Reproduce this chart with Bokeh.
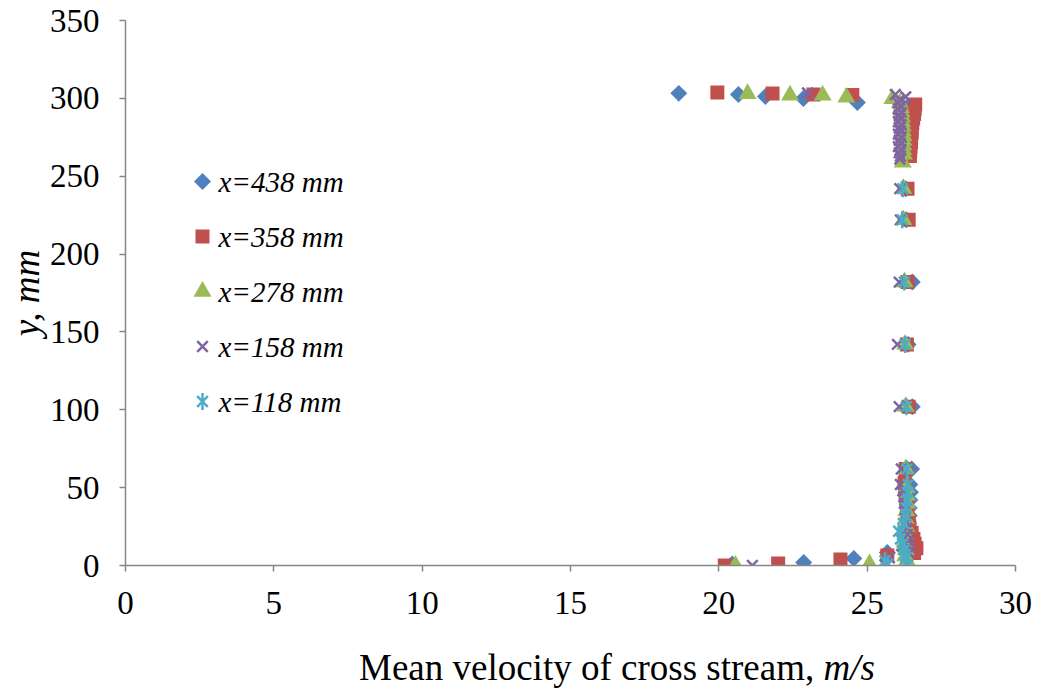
import math

from bokeh.plotting import figure
from bokeh.layouts import column
from bokeh.models import Range1d, FixedTicker, Label, Div
from bokeh.embed import file_html
from bokeh.resources import INLINE

# ---------------------------------------------------------------------------
# Measured mean velocity (m/s) of the cross stream against height y (mm)
# at five stream-wise stations.
# ---------------------------------------------------------------------------
series_labels = ["x=438 mm", "x=358 mm", "x=278 mm", "x=158 mm", "x=118 mm"]

y_438 = [303.2, 302.5, 301.2, 299.9, 297.4, 295, 292, 289, 286, 283, 280, 277,
         274, 271, 268, 265, 262, 242, 222, 182, 142, 102, 62, 52, 47, 42, 37,
         32, 27, 22, 17, 13, 10, 8.3, 4.5, 2.0, 1.0]
u_438 = [18.65, 20.66, 21.57, 22.85, 24.67, 26.38, 26.42, 26.44, 26.42, 26.40,
         26.40, 26.38, 26.36, 26.36, 26.34, 26.32, 26.30, 26.30, 26.32, 26.52,
         26.38, 26.52, 26.50, 26.44, 26.46, 26.44, 26.42, 26.42, 26.40, 26.36,
         26.34, 26.30, 26.24, 25.68, 24.55, 22.86, 20.45]

y_358 = [303.8, 303.1, 302.5, 302.2, 296, 293, 290, 287, 284, 281, 278, 275,
         272, 269, 266, 263, 242, 222, 182, 142, 102, 62, 53, 49, 45, 41, 37,
         33, 29, 25, 21, 17, 14, 11, 8, 6.4, 3.8, 1.3, 0.0]
u_358 = [19.95, 21.81, 23.19, 24.50, 26.62, 26.60, 26.58, 26.55, 26.52, 26.50,
         26.50, 26.48, 26.48, 26.46, 26.45, 26.44, 26.36, 26.40, 26.36, 26.34,
         26.40, 26.30, 26.26, 26.28, 26.30, 26.32, 26.34, 26.36, 26.40, 26.42,
         26.50, 26.56, 26.60, 26.66, 26.58, 25.68, 24.10, 22.00, 20.20]

y_278 = [303.0, 302.0, 301.9, 300.6, 299.7, 297, 294, 291, 288, 285, 282, 279,
         276, 273, 270, 267, 264, 259, 242, 222, 182, 142, 102, 62, 50, 45, 40,
         35, 30, 25, 20, 15, 10, 6, 3, 0.5, 1.0, 0.0]
u_278 = [20.97, 22.40, 23.50, 24.30, 25.85, 26.10, 26.14, 26.16, 26.18, 26.18,
         26.20, 26.20, 26.22, 26.22, 26.22, 26.22, 26.24, 26.20, 26.22, 26.22,
         26.26, 26.28, 26.30, 26.30, 26.32, 26.34, 26.34, 26.32, 26.30, 26.32,
         26.28, 26.26, 26.30, 26.28, 26.34, 26.30, 25.08, 20.56]

y_158 = [303.5, 302.5, 301, 299, 297, 295, 293, 291, 289, 287, 285, 283, 281,
         279, 277, 275, 273, 271, 269, 267, 265, 263, 261, 242, 222, 182, 142,
         102, 62, 52, 48, 44, 40, 36, 32, 28, 24, 20, 16, 12, 8, 5, 0.5, 0.0]
u_158 = [22.99, 25.95, 26.30, 26.10, 26.05, 26.12, 26.05, 26.15, 26.08, 26.12,
         26.05, 26.15, 26.08, 26.12, 26.05, 26.15, 26.08, 26.12, 26.05, 26.14,
         26.08, 26.12, 26.10, 26.10, 26.12, 26.08, 26.02, 26.08, 26.15, 26.12,
         26.20, 26.24, 26.26, 26.28, 26.30, 26.32, 26.34, 26.36, 26.38, 26.40,
         26.42, 25.75, 25.60, 21.13]

y_118 = [242, 222, 182, 142, 102, 62, 52, 47, 42, 37, 32, 27, 22, 17, 14, 10,
         7, 5, 3, 1, 0]
u_118 = [26.20, 26.18, 26.25, 26.28, 26.32, 26.34, 26.38, 26.36, 26.36, 26.32,
         26.30, 26.22, 26.06, 26.12, 26.20, 26.25, 26.28, 26.30, 25.60, 25.70,
         26.36]

x_ticks = [0, 5, 10, 15, 20, 25, 30]
y_ticks = [0, 50, 100, 150, 200, 250, 300, 350]

# ---------------------------------------------------------------------------
# Styling
# ---------------------------------------------------------------------------
BLUE, RED, GREEN, PURPLE, CYAN = "#4F81BD", "#C0504D", "#9BBB59", "#8064A2", "#4BACC6"
AXIS_GREY = "#868686"
SERIF = "Liberation Serif"

FRAME_W, FRAME_H = 890, 545
LEFT, RIGHT, TOP, BOTTOM = 125, 28, 20, 82
TITLE_H = 696 - (TOP + FRAME_H + BOTTOM)

p = figure(
    frame_width=FRAME_W, frame_height=FRAME_H,
    x_range=Range1d(0, 30), y_range=Range1d(0, 350),
    min_border_left=LEFT, min_border_right=RIGHT,
    min_border_top=TOP, min_border_bottom=BOTTOM,
    output_backend="svg", toolbar_location=None,
    background_fill_color="white", border_fill_color="white",
    margin=0,
)
p.outline_line_color = None
p.xgrid.visible = False
p.ygrid.visible = False

for ax, ticks in ((p.xaxis[0], x_ticks), (p.yaxis[0], y_ticks)):
    ax.ticker = FixedTicker(ticks=ticks)
    ax.axis_line_color = AXIS_GREY
    ax.axis_line_width = 1.5
    ax.major_tick_line_color = AXIS_GREY
    ax.major_tick_line_width = 1.5
    ax.major_tick_out = 6
    ax.major_tick_in = 0
    ax.minor_tick_out = 0
    ax.minor_tick_in = 0
    ax.major_label_text_font = SERIF
    ax.major_label_text_font_size = "33px"
    ax.major_label_text_color = "black"
p.xaxis.major_label_standoff = 20
p.yaxis.major_label_standoff = 20

# vertical axis title
p.yaxis.axis_label = "y, mm"
p.yaxis.axis_label_text_font = SERIF
p.yaxis.axis_label_text_font_style = "italic"
p.yaxis.axis_label_text_font_size = "37px"
p.yaxis.axis_label_text_color = "black"
p.yaxis.axis_label_standoff = 0

# pixel-based ranges for placing the legend keys inside the frame
p.extra_x_ranges = {"px": Range1d(0, FRAME_W)}
p.extra_y_ranges = {"px": Range1d(0, FRAME_H)}

DIAMOND = dict(marker="square", angle=math.pi / 4, size=12, line_color=None, fill_color=BLUE)
SQUARE = dict(marker="square", size=14, line_color=None, fill_color=RED)
TRIANGLE = dict(marker="triangle", size=18, line_color=None, fill_color=GREEN)
CROSS = dict(marker="x", size=15, line_color=PURPLE, line_width=2.5)
STAR_X = dict(marker="x", size=15, line_color=CYAN, line_width=2.5)
STAR_V = dict(marker="dash", angle=math.pi / 2, size=17, line_color=CYAN, line_width=2.5)

p.scatter(u_438, y_438, **DIAMOND)
p.scatter(u_358, y_358, **SQUARE)
p.scatter(u_278, y_278, **TRIANGLE)
p.scatter(u_158, y_158, **CROSS)
p.scatter(u_118, y_118, **STAR_X)
p.scatter(u_118, y_118, **STAR_V)

# ---------------------------------------------------------------------------
# Legend: keys and italic labels
# ---------------------------------------------------------------------------
LEG_KEY_X = 77          # px from frame left
LEG_TEXT_X = 93
LEG_ROW_TOP = 565 - 181  # px from frame bottom, first row
LEG_STEP = 55

key_styles = [[DIAMOND], [SQUARE], [TRIANGLE], [CROSS], [STAR_X, STAR_V]]
for i, (label, styles) in enumerate(zip(series_labels, key_styles)):
    row_y = LEG_ROW_TOP - i * LEG_STEP
    for st in styles:
        p.scatter([LEG_KEY_X], [row_y], x_range_name="px", y_range_name="px", **st)
    p.add_layout(Label(
        x=LEG_TEXT_X, y=row_y, x_units="screen", y_units="screen",
        text=label, text_font=SERIF, text_font_style="italic",
        text_font_size="29px", text_align="left", text_baseline="middle",
        text_color="black",
    ))

# ---------------------------------------------------------------------------
# Horizontal axis title (upright text with italic unit) under the chart
# ---------------------------------------------------------------------------
x_title = Div(
    text=(
        "<div style=\"font-family:'Liberation Serif';font-size:37px;"
        f"line-height:{TITLE_H - 8}px;padding-left:359px;white-space:nowrap;"
        "color:black\">Mean velocity of cross stream, <i>m/s</i></div>"
    ),
    width=LEFT + FRAME_W + RIGHT, height=TITLE_H, margin=0,
)

layout = column(p, x_title, spacing=0, margin=0)

open("out.html", "w").write(file_html(layout, INLINE))
